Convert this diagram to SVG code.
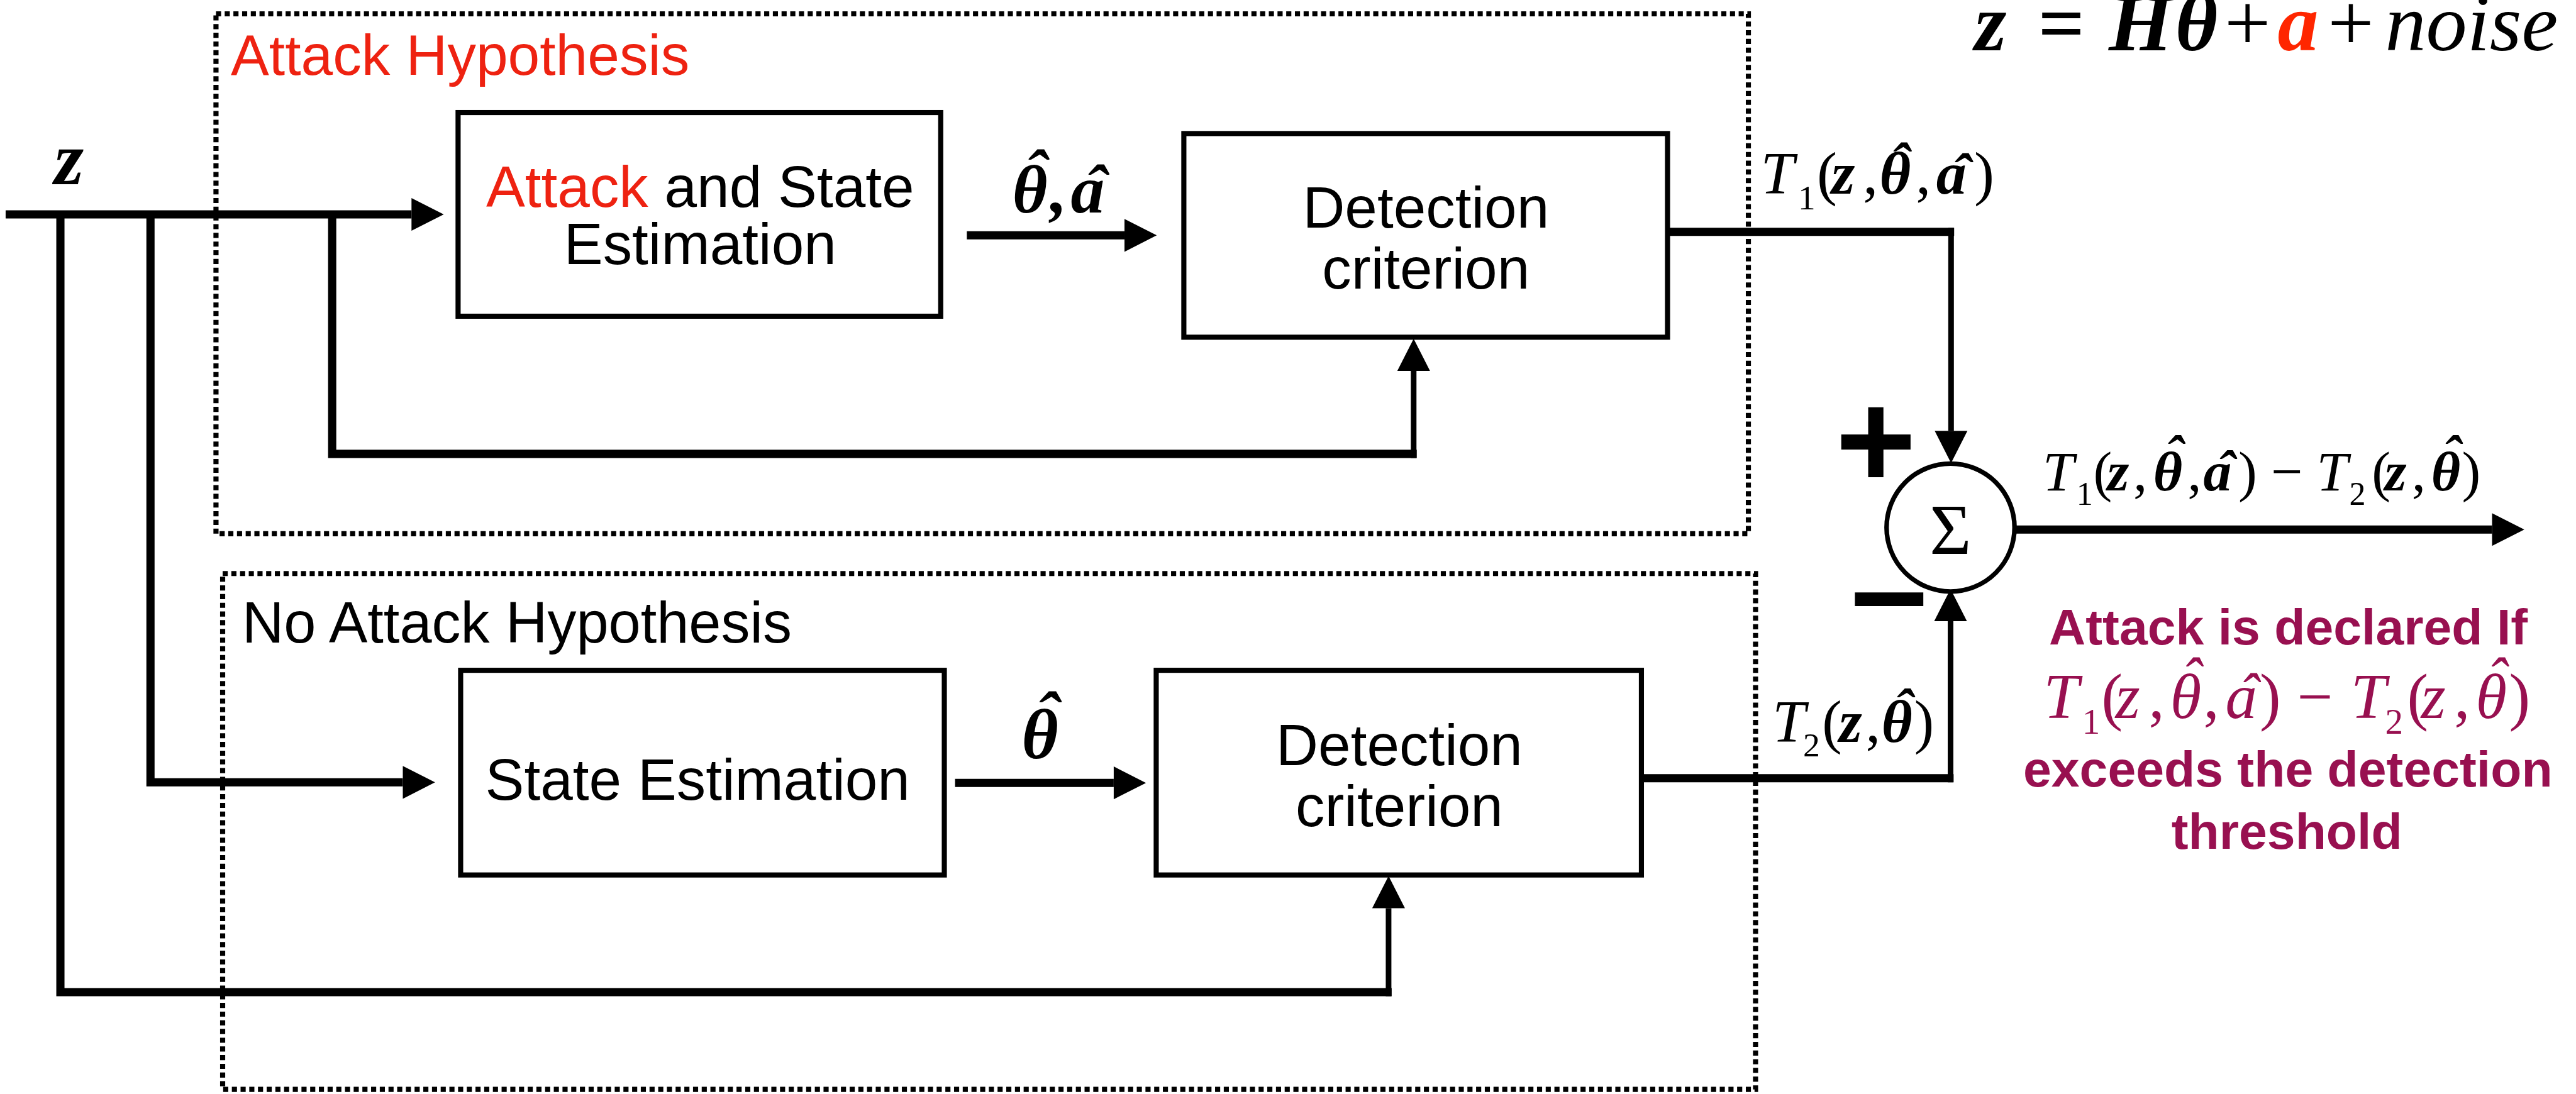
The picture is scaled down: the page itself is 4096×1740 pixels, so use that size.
<svg xmlns="http://www.w3.org/2000/svg" width="4096" height="1740" viewBox="0 0 4096 1740">
<style>
  .box{fill:none;stroke:#000;stroke-width:10}
  .grp{fill:none;stroke:#000;stroke-width:10;stroke-dasharray:10 7}
  .w{fill:none;stroke:#000;stroke-width:16}
  .t{fill:none;stroke:#000;stroke-width:11}
  .sans{font-family:"Liberation Sans",Arial,Helvetica,sans-serif}
  .lbl{font-size:114px;text-anchor:middle;fill:#000}
  .math{font-family:"Liberation Serif","Times New Roman",serif;font-style:italic;fill:#000}
  .up{font-style:normal}
  .b{font-weight:bold}
  .hat{text-anchor:middle}
  .red{fill:#EE2211}
  .pur{fill:#981050}
</style>
<defs>
  <marker id="ah" markerUnits="userSpaceOnUse" markerWidth="64" markerHeight="64" refX="0" refY="0" orient="auto" overflow="visible">
    <path d="M0,-32 L63,0 L0,32 Z" fill="#000"/>
  </marker>
</defs>
<rect width="4096" height="1740" fill="#fff"/>
<g transform="scale(0.81383)">

  <!-- hypothesis frames -->
  <g id="frame-attack">
    <rect class="grp" x="422" y="27" width="2994" height="1016"/>
    <text class="sans red" x="451" y="146" font-size="112">Attack Hypothesis</text>
  </g>
  <g id="frame-no-attack">
    <rect class="grp" x="435" y="1121" width="2995" height="1008"/>
    <text class="sans" x="473" y="1256" font-size="113">No Attack Hypothesis</text>
  </g>

  <!-- connectors -->
  <g id="connectors">
    <path class="w" d="M11 419 H804" marker-end="url(#ah)"/>
    <path class="w" d="M118 419 V1939 H2719"/>
    <path class="t" d="M2713 1947 V1775" marker-end="url(#ah)"/>
    <path class="w" d="M294 419 V1529 H787" marker-end="url(#ah)"/>
    <path class="w" d="M649 419 V887 H2768"/>
    <path class="t" d="M2762 895 V725" marker-end="url(#ah)"/>
    <path class="w" d="M1889 460 H2197" marker-end="url(#ah)"/>
    <path class="w" d="M1866 1530 H2176" marker-end="url(#ah)"/>
    <path class="w" d="M3258 453 H3818"/>
    <path class="t" d="M3812 445 V842" marker-end="url(#ah)"/>
    <path class="w" d="M3207 1521 H3817"/>
    <path class="t" d="M3811 1529 V1214" marker-end="url(#ah)"/>
    <path class="w" d="M3936 1035 H4869" marker-end="url(#ah)"/>
  </g>

  <!-- input signal -->
  <g id="input-z">
    <text class="math b" x="106" y="360" font-size="148">z</text>
  </g>

  <!-- attack hypothesis branch -->
  <g id="attack-state-estimation">
    <rect class="box" x="895" y="220" width="943" height="398"/>
    <text class="sans lbl" x="1368" y="404"><tspan class="red">Attack</tspan> and State</text>
    <text class="sans lbl" x="1368" y="516">Estimation</text>
  </g>
  <g id="est-attack-label" class="math b">
    <text font-size="132" y="415"><tspan x="1978">θ</tspan><tspan x="2052">,</tspan><tspan x="2092">a</tspan></text>
    <text class="hat" font-size="128" x="2024" y="382">ˆ</text>
    <text class="hat" font-size="128" x="2141" y="412">ˆ</text>
  </g>
  <g id="detection-attack">
    <rect class="box" x="2313" y="261" width="945" height="398"/>
    <text class="sans lbl" x="2786" y="445">Detection</text>
    <text class="sans lbl" x="2786" y="564">criterion</text>
  </g>
  <g id="t1-label">
    <text class="math" font-size="118" y="378"><tspan x="3440">T</tspan><tspan class="up" x="3513" y="409" font-size="68">1</tspan><tspan class="up" x="3550" y="378">(</tspan><tspan class="b" x="3578">z</tspan><tspan class="up" x="3640">,</tspan><tspan class="b" x="3672">θ</tspan><tspan class="up" x="3743">,</tspan><tspan class="b" x="3783">a</tspan><tspan class="up" x="3857">)</tspan></text>
    <text class="math b hat" font-size="112" x="3712" y="357">ˆ</text>
    <text class="math b hat" font-size="112" x="3832" y="379">ˆ</text>
  </g>

  <!-- no-attack hypothesis branch -->
  <g id="state-estimation">
    <rect class="box" x="900" y="1310" width="945" height="400"/>
    <text class="sans lbl" x="1363" y="1563">State Estimation</text>
  </g>
  <g id="est-label" class="math b">
    <text font-size="138" x="1996" y="1482">θ</text>
    <text class="hat" font-size="136" x="2046" y="1446">ˆ</text>
  </g>
  <g id="detection-no-attack">
    <rect class="box" x="2259" y="1310" width="948" height="400"/>
    <text class="sans lbl" x="2734" y="1495">Detection</text>
    <text class="sans lbl" x="2734" y="1615">criterion</text>
  </g>
  <g id="t2-label">
    <text class="math" font-size="116" y="1450"><tspan x="3463">T</tspan><tspan class="up" x="3523" y="1478" font-size="66">2</tspan><tspan class="up" x="3560" y="1450">(</tspan><tspan class="b" x="3593">z</tspan><tspan class="up" x="3645">,</tspan><tspan class="b" x="3676">θ</tspan><tspan class="up" x="3740">)</tspan></text>
    <text class="math b hat" font-size="110" x="3719" y="1423">ˆ</text>
  </g>

  <!-- summing junction -->
  <g id="sum">
    <circle cx="3811" cy="1031" r="125" fill="#fff" stroke="#000" stroke-width="9"/>
    <text x="3811" y="1082" font-family="Liberation Serif,Times New Roman,serif" font-size="140" text-anchor="middle">Σ</text>
    <text class="sans b" x="3665" y="954" font-size="270" text-anchor="middle">+</text>
    <text class="sans b" x="3691" y="1243" font-size="270" text-anchor="middle">–</text>
  </g>

  <!-- output statistic -->
  <g id="output-label">
    <text class="math" font-size="110" y="958"><tspan x="3991">T</tspan><tspan class="up" x="4057" y="987" font-size="64">1</tspan><tspan class="up" x="4090" y="958">(</tspan><tspan class="b" x="4117">z</tspan><tspan class="up" x="4168">,</tspan><tspan class="b" x="4207">θ</tspan><tspan class="up" x="4274">,</tspan><tspan class="b" x="4305">a</tspan><tspan class="up" x="4373">)</tspan><tspan class="up" x="4437">−</tspan><tspan x="4526">T</tspan><tspan class="up" x="4590" y="987" font-size="64">2</tspan><tspan class="up" x="4634" y="958">(</tspan><tspan class="b" x="4659">z</tspan><tspan class="up" x="4712">,</tspan><tspan class="b" x="4750">θ</tspan><tspan class="up" x="4810">)</tspan></text>
    <text class="math b hat" font-size="106" x="4248" y="927">ˆ</text>
    <text class="math b hat" font-size="106" x="4349" y="956">ˆ</text>
    <text class="math b hat" font-size="106" x="4790" y="927">ˆ</text>
  </g>

  <!-- decision rule -->
  <g id="decision-note">
    <text class="sans b pur" x="4471" y="1259" font-size="99" text-anchor="middle">Attack is declared If</text>
    <text class="math pur" font-size="124" y="1403"><tspan x="3993">T</tspan><tspan class="up" x="4068" y="1434" font-size="70">1</tspan><tspan class="up" x="4106" y="1403">(</tspan><tspan x="4133">z</tspan><tspan class="up" x="4198">,</tspan><tspan x="4240">θ</tspan><tspan class="up" x="4305">,</tspan><tspan x="4348">a</tspan><tspan class="up" x="4415">)</tspan><tspan class="up" x="4488">−</tspan><tspan x="4593">T</tspan><tspan class="up" x="4660" y="1434" font-size="70">2</tspan><tspan class="up" x="4703" y="1403">(</tspan><tspan x="4730">z</tspan><tspan class="up" x="4795">,</tspan><tspan x="4837">θ</tspan><tspan class="up" x="4902">)</tspan></text>
    <text class="math pur hat" font-size="118" x="4281" y="1366">ˆ</text>
    <text class="math pur hat" font-size="118" x="4393" y="1397">ˆ</text>
    <text class="math pur hat" font-size="118" x="4878" y="1366">ˆ</text>
    <text class="sans b pur" x="4470" y="1537" font-size="99" text-anchor="middle">exceeds the detection</text>
    <text class="sans b pur" x="4468" y="1659" font-size="99" text-anchor="middle">threshold</text>
  </g>

  <!-- measurement model -->
  <g id="model">
    <text class="math" font-size="160" y="98"><tspan class="b" x="3858">z</tspan><tspan class="b up" x="3982">=</tspan><tspan class="b" x="4120">H</tspan><tspan class="b" x="4250">θ</tspan><tspan class="up" x="4346">+</tspan><tspan class="b" x="4450" fill="#FF2600">a</tspan><tspan class="up" x="4548">+</tspan><tspan x="4660">noise</tspan></text>
  </g>
</g>
</svg>
